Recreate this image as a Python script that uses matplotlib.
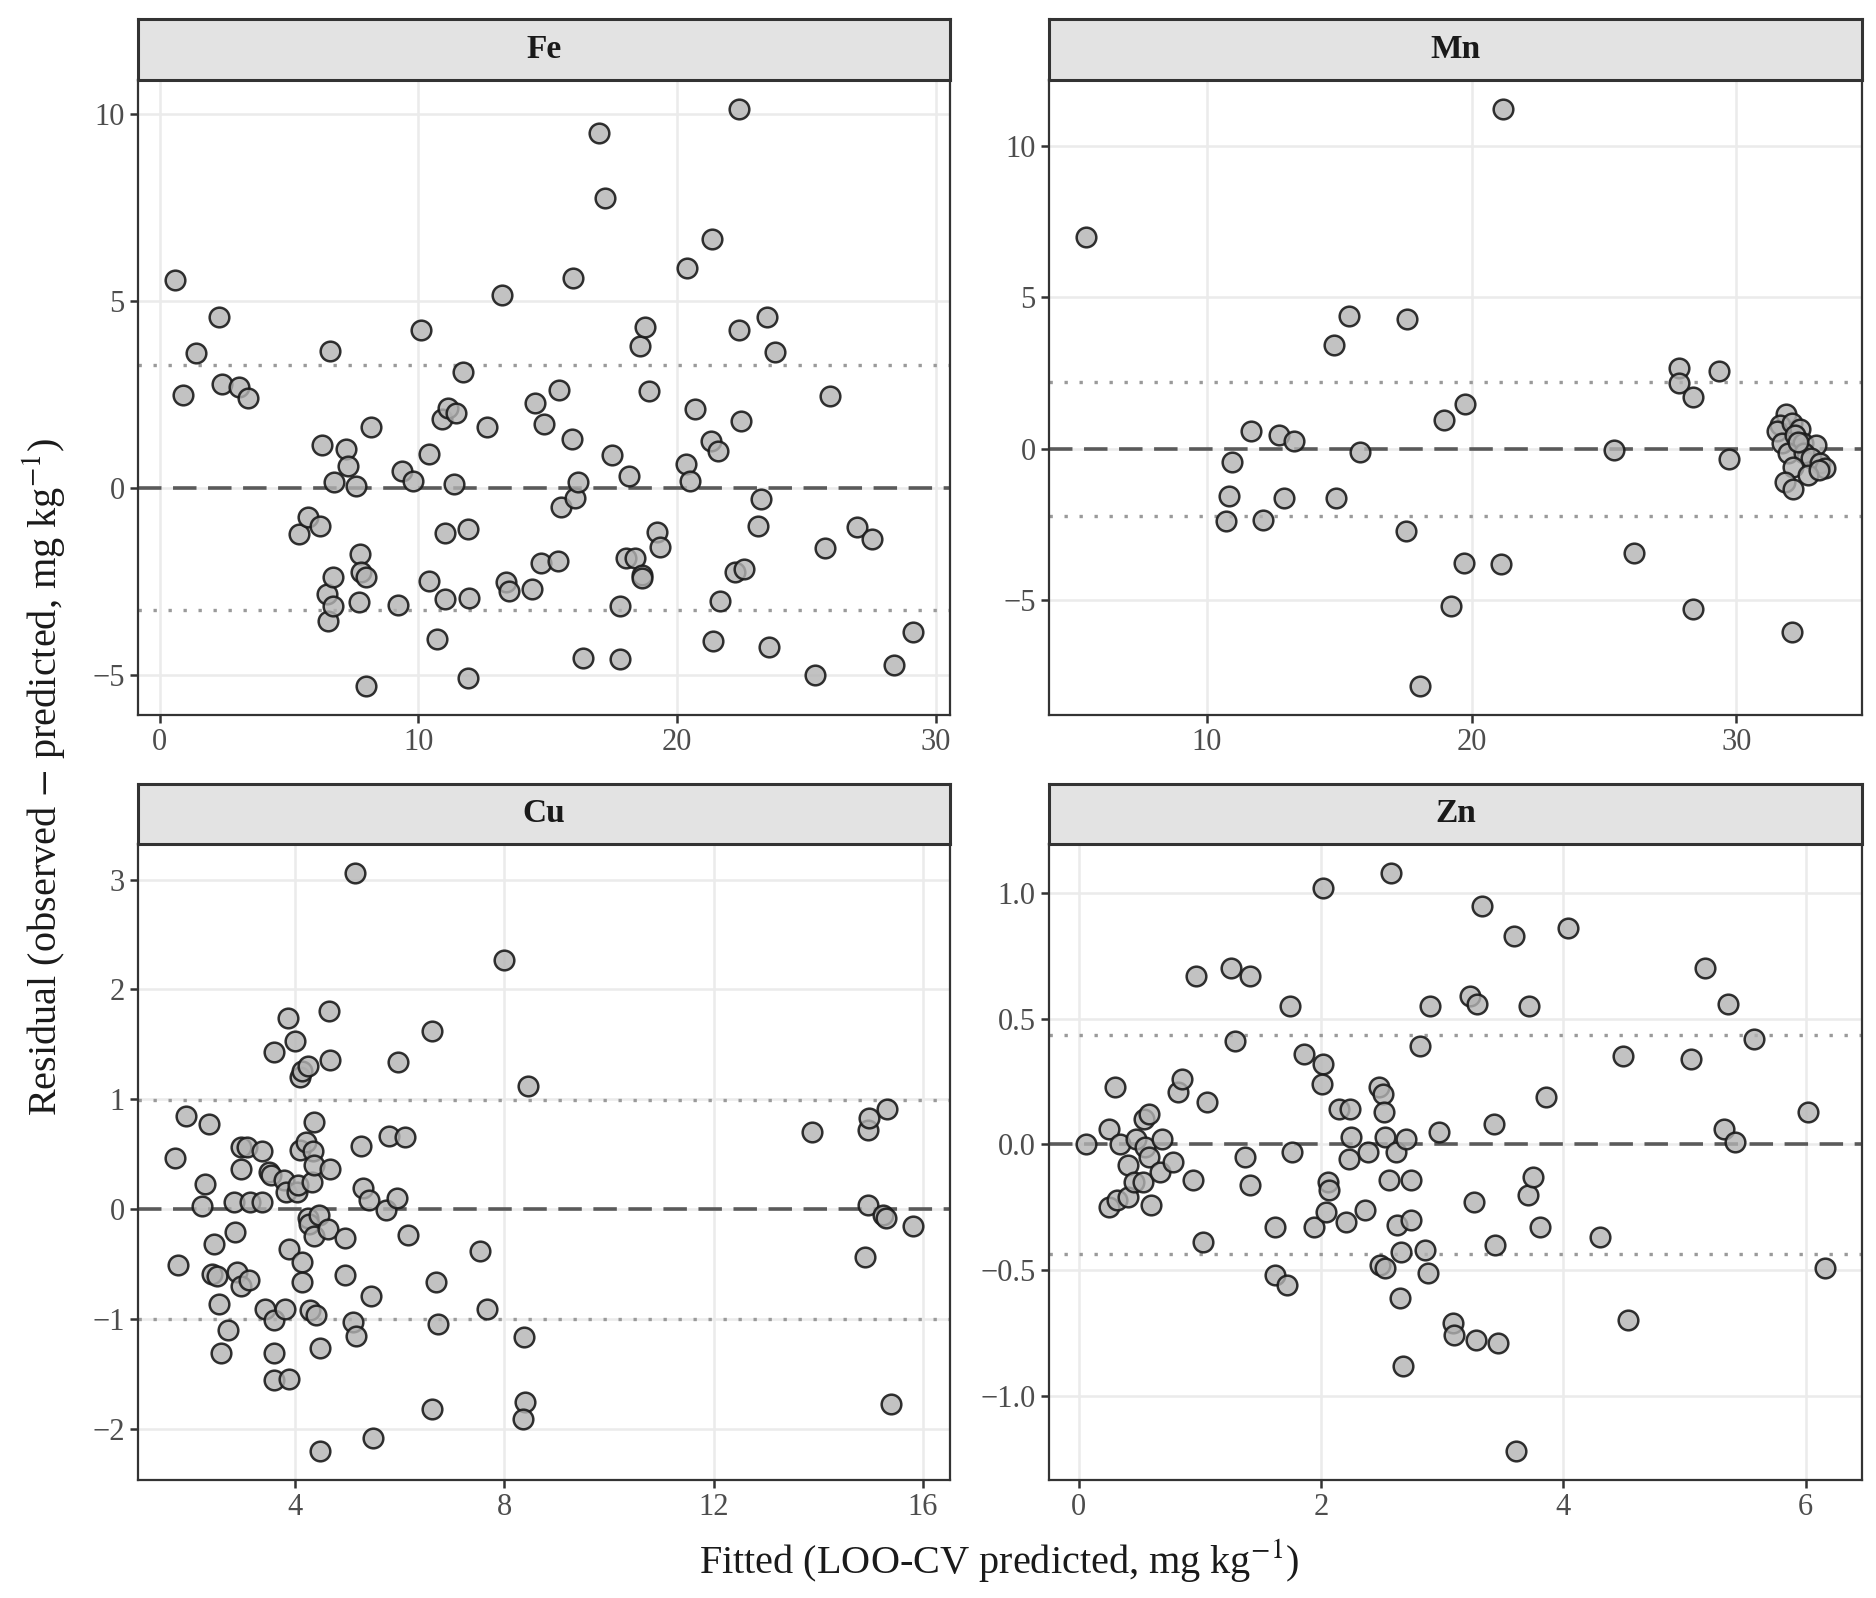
import matplotlib
matplotlib.use("Agg")
import matplotlib.pyplot as plt
import numpy as np

plt.rcParams['font.family'] = ['Liberation Serif', 'DejaVu Serif']
plt.rcParams['mathtext.fontset'] = 'stix'

# --- data (fitted, residual) ---
fe_x = [0.59, 0.92, 1.42, 2.29, 2.41, 3.07, 3.40, 5.39, 5.72, 6.19, 6.26, 6.60, 6.48, 6.52, 6.69,
        6.71, 6.76, 7.21, 7.30, 7.61, 7.75, 7.80, 7.97, 7.71, 7.99, 8.18, 9.20, 9.36, 9.81, 10.09,
        10.43, 10.43, 10.73, 10.92, 11.02, 11.02, 11.16, 11.44, 11.39, 11.73, 11.92, 11.96, 11.92,
        12.67, 13.24, 13.38, 13.52, 14.40, 14.52, 14.73, 14.85, 15.39, 15.44, 15.53, 15.93, 15.98,
        16.05, 16.17, 16.38, 17.00, 17.21, 17.49, 17.80, 17.80, 18.13, 18.04, 18.39, 18.58, 18.63,
        18.66, 18.77, 18.91, 19.22, 19.36, 20.38, 20.35, 20.52, 20.69, 21.30, 21.37, 21.58, 21.40,
        21.65, 22.25, 22.58, 22.41, 22.41, 22.46, 23.12, 23.24, 23.50, 23.78, 23.57, 25.34, 25.74,
        25.93, 26.97, 27.54, 28.39, 29.13]
fe_y = [5.56, 2.48, 3.60, 4.57, 2.78, 2.68, 2.39, -1.23, -0.79, -1.03, 1.14, 3.65, -2.84, -3.58,
        -2.38, -3.18, 0.14, 1.04, 0.58, 0.03, -1.77, -2.25, -2.38, -3.06, -5.31, 1.62, -3.13, 0.44,
        0.19, 4.22, 0.91, -2.49, -4.04, 1.83, -1.21, -2.97, 2.12, 2.00, 0.09, 3.08, -1.12, -2.95,
        -5.09, 1.62, 5.14, -2.53, -2.77, -2.70, 2.25, -2.01, 1.70, -1.95, 2.61, -0.52, 1.29, 5.61,
        -0.27, 0.16, -4.57, 9.48, 7.75, 0.88, -3.18, -4.58, 0.32, -1.88, -1.87, 3.78, -2.34, -2.43,
        4.30, 2.58, -1.19, -1.60, 5.88, 0.62, 0.19, 2.09, 1.25, 6.66, 0.97, -4.09, -3.03, -2.27,
        -2.17, 10.13, 4.22, 1.78, -1.03, -0.30, 4.55, 3.62, -4.27, -5.00, -1.61, 2.45, -1.05, -1.38,
        -4.75, -3.86]

mn_x = [5.44, 21.19, 15.37, 14.79, 17.55, 11.69, 12.72, 13.30, 10.94, 10.85, 10.72, 12.11, 12.90,
        14.88, 15.80, 17.53, 18.97, 19.75, 19.73, 19.24, 18.04, 21.10, 25.37, 26.13, 27.82, 27.84,
        28.38, 29.35, 29.73, 28.38, 32.09,
        31.89, 31.65, 31.53, 32.10, 32.40, 31.71, 32.21, 32.51, 32.99, 31.95, 32.57, 32.81, 33.17,
        33.35, 32.15, 32.69, 31.82, 32.15, 33.11, 32.33]
mn_y = [6.99, 11.23, 4.39, 3.43, 4.28, 0.58, 0.45, 0.26, -0.42, -1.57, -2.40, -2.36, -1.62, -1.63,
        -0.10, -2.72, 0.95, 1.49, -3.78, -5.19, -7.84, -3.80, -0.03, -3.45, 2.68, 2.16, 1.71, 2.58,
        -0.35, -5.29, -6.06,
        1.14, 0.80, 0.58, 0.86, 0.64, 0.19, 0.47, 0.19, 0.13, -0.15, -0.15, -0.31, -0.48, -0.65,
        -0.59, -0.87, -1.09, -1.32, -0.70, 0.24]

cu_x = [1.71, 1.77, 1.92, 2.28, 2.37, 2.22, 2.46, 2.41, 2.52, 2.55, 2.73, 2.59, 2.83, 2.86, 2.98,
        2.98, 3.08, 2.90, 2.98, 3.12, 3.15, 3.37, 3.37, 3.51, 3.54, 3.60, 3.43, 3.61, 3.61, 3.61,
        3.81, 3.80, 3.83, 3.87, 3.88, 3.89, 4.00, 4.04, 4.06, 4.10, 4.13, 4.14, 4.13, 4.10, 4.21,
        4.25, 4.25, 4.28, 4.29, 4.32, 4.36, 4.34, 4.36, 4.36, 4.40, 4.46, 4.48, 4.48, 4.63, 4.65,
        4.68, 4.68, 4.95, 4.95, 5.15, 5.11, 5.16, 5.26, 5.30, 5.42, 5.45, 5.49, 5.74, 5.80, 5.96,
        5.97, 6.11, 6.17, 6.62, 6.62, 6.69, 6.74, 7.54, 7.67, 7.99, 8.37, 8.39, 8.35, 8.45, 13.88,
        14.94, 14.96, 14.94, 14.89, 15.31, 15.23, 15.29, 15.38, 15.81]
cu_y = [0.47, -0.51, 0.85, 0.23, 0.78, 0.03, -0.32, -0.59, -0.61, -0.86, -1.10, -1.31, 0.07, -0.21,
        0.37, 0.57, 0.57, -0.57, -0.70, -0.64, 0.07, 0.53, 0.07, 0.34, 0.31, 1.43, -0.91, -1.01,
        -1.31, -1.55, -0.91, 0.27, 0.16, 1.74, -1.54, -0.36, 1.53, 0.16, 0.22, 1.20, 1.26, -0.48,
        -0.66, 0.54, 0.61, 1.30, -0.08, -0.13, -0.92, 0.25, 0.79, 0.53, 0.40, -0.24, -0.96, -0.05,
        -1.26, -2.20, -0.18, 1.80, 1.36, 0.37, -0.26, -0.60, 3.06, -1.03, -1.15, 0.58, 0.19, 0.08,
        -0.79, -2.08, -0.01, 0.67, 0.10, 1.34, 0.66, -0.23, 1.62, -1.82, -0.66, -1.04, -0.38, -0.91,
        2.27, -1.16, -1.75, -1.91, 1.12, 0.70, 0.72, 0.83, 0.04, -0.43, 0.91, -0.05, -0.08, -1.77,
        -0.15]

zn_x = [0.06, 0.25, 0.25, 0.30, 0.32, 0.34, 0.41, 0.41, 0.46, 0.47, 0.53, 0.54, 0.55, 0.58, 0.58,
        0.60, 0.67, 0.69, 0.78, 0.82, 0.85, 0.94, 0.97, 1.06, 1.03, 1.26, 1.29, 1.41, 1.37, 1.41,
        1.62, 1.62, 1.74, 1.76, 1.72, 1.86, 1.94, 2.02, 2.02, 2.01, 2.04, 2.06, 2.07, 2.15, 2.24,
        2.25, 2.23, 2.21, 2.36, 2.39, 2.48, 2.51, 2.52, 2.53, 2.49, 2.53, 2.58, 2.56, 2.62, 2.63,
        2.66, 2.65, 2.70, 2.68, 2.74, 2.74, 2.82, 2.86, 2.88, 2.90, 2.97, 3.09, 3.10, 3.23, 3.29,
        3.26, 3.28, 3.33, 3.43, 3.44, 3.46, 3.59, 3.61, 3.72, 3.71, 3.75, 3.81, 3.86, 4.04, 4.30,
        4.49, 4.53, 5.05, 5.17, 5.33, 5.36, 5.42, 5.57, 6.02, 6.16]
zn_y = [0.00, 0.06, -0.25, 0.23, -0.22, 0.00, -0.21, -0.08, -0.15, 0.02, -0.15, 0.10, -0.01, 0.12,
        -0.05, -0.24, -0.11, 0.02, -0.07, 0.21, 0.26, -0.14, 0.67, 0.17, -0.39, 0.70, 0.41, 0.67,
        -0.05, -0.16, -0.33, -0.52, 0.55, -0.03, -0.56, 0.36, -0.33, 0.32, 1.02, 0.24, -0.27, -0.15,
        -0.18, 0.14, 0.14, 0.03, -0.06, -0.31, -0.26, -0.03, 0.23, 0.20, 0.13, 0.03, -0.48, -0.49,
        1.08, -0.14, -0.03, -0.32, -0.43, -0.61, 0.02, -0.88, -0.30, -0.14, 0.39, -0.42, -0.51, 0.55,
        0.05, -0.71, -0.76, 0.59, 0.56, -0.23, -0.78, 0.95, 0.08, -0.40, -0.79, 0.83, -1.22, 0.55,
        -0.20, -0.13, -0.33, 0.19, 0.86, -0.37, 0.35, -0.70, 0.34, 0.70, 0.06, 0.56, 0.01, 0.42,
        0.13, -0.49]

# dotted band half-widths per element
bands = {'Fe': 3.28, 'Mn': 2.21, 'Cu': 0.995, 'Zn': 0.436}
xticks = {'Fe': [0, 10, 20, 30], 'Mn': [10, 20, 30], 'Cu': [4, 8, 12, 16], 'Zn': [0, 2, 4, 6]}
yticks = {'Fe': [-5, 0, 5, 10], 'Mn': [-5, 0, 5, 10], 'Cu': [-2, -1, 0, 1, 2, 3],
          'Zn': [-1.0, -0.5, 0.0, 0.5, 1.0]}

W, H = 1876, 1598
fig = plt.figure(figsize=(W / 200, H / 200), dpi=200)


def px_axes(x0, y0, x1, y1):
    # pixel box (from top-left) -> figure axes
    return fig.add_axes([x0 / W, 1 - y1 / H, (x1 - x0) / W, (y1 - y0) / H])


panels = [
    ('Fe', fe_x, fe_y, (138, 19, 950, 80, 715)),
    ('Mn', mn_x, mn_y, (1049, 19, 1862, 80, 715)),
    ('Cu', cu_x, cu_y, (138, 784, 950, 844, 1480)),
    ('Zn', zn_x, zn_y, (1049, 784, 1862, 844, 1480)),
]

for name, xs, ys, (x0, st, x1, pt, pb) in panels:
    ax = px_axes(x0, pt, x1, pb)
    ax.scatter(xs, ys, s=50, facecolor=(0.70, 0.70, 0.70, 0.8), edgecolor=(0.1, 0.1, 0.1, 0.9),
               linewidth=0.9, zorder=3)
    ax.margins(0.05)
    ax.axhline(0, color='#5a5a5a', lw=1.3, ls=(0, (6.5, 3.2)), zorder=2)
    b = bands[name]
    ax.axhline(b, color='#9a9a9a', lw=1.2, ls=(0, (1, 3.5)), zorder=2)
    ax.axhline(-b, color='#9a9a9a', lw=1.2, ls=(0, (1, 3.5)), zorder=2)
    ax.set_xticks(xticks[name])
    ax.set_yticks(yticks[name])
    if name == 'Zn':
        ax.set_yticklabels(['\u22121.0', '\u22120.5', '0.0', '0.5', '1.0'])
    ax.grid(True, color='#ebebeb', lw=0.9, zorder=0)
    ax.set_axisbelow(True)
    for s in ax.spines.values():
        s.set_color('#333333')
        s.set_linewidth(0.8)
    ax.tick_params(colors='#333333', labelcolor='#4d4d4d', labelsize=11, length=2.8, width=0.9,
                   pad=2)

    sx = px_axes(x0, st, x1, pt)
    sx.set_facecolor('#e3e3e3')
    sx.set_xticks([])
    sx.set_yticks([])
    for s in sx.spines.values():
        s.set_color('#333333')
        s.set_linewidth(1.1)
    sx.text(0.5, 0.5, name, transform=sx.transAxes, ha='center', va='center',
            fontsize=12, fontweight='bold', color='#1a1a1a')

fig.text(44 / W, 1 - 777 / H, r'Residual (observed $-$ predicted, mg kg$^{-1}$)',
         rotation=90, ha='center', va='center', fontsize=14.5, color='#1a1a1a')
fig.text(999 / W, 1 - 1561 / H, r'Fitted (LOO-CV predicted, mg kg$^{-1}$)',
         ha='center', va='center', fontsize=14.5, color='#1a1a1a')

fig.savefig('out.png', dpi=200)
